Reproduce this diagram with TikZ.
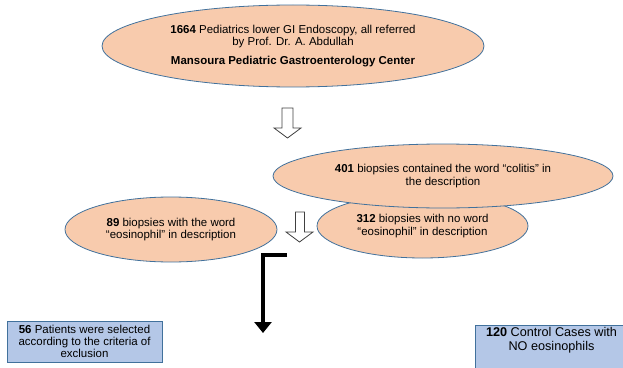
\documentclass[tikz,border=0pt]{standalone}
\usepackage{fontspec}
\setmainfont{Liberation Sans}
\usepackage{xcolor}
\usetikzlibrary{shapes.geometric,arrows.meta}

\definecolor{ovalfill}{RGB}{248,203,173}
\definecolor{ovalline}{RGB}{65,113,156}
\definecolor{boxfill}{RGB}{180,199,231}
\definecolor{arrowline}{RGB}{64,64,64}

\tikzset{
  oval/.style={ellipse, draw=ovalline, line width=0.6pt, fill=ovalfill, inner sep=0pt, align=center, font=\fontsize{8.6}{9.2}\selectfont},
  bluebox/.style={rectangle, draw=ovalline, line width=0.6pt, fill=boxfill, inner sep=0pt, align=center},
  hollow/.style={draw=arrowline, fill=white, line width=0.6pt}
}

\begin{document}
\begin{tikzpicture}[x=0.75pt,y=0.75pt,yscale=-1,xscale=1]
	\useasboundingbox (0,0) rectangle (623,367);
	
	%Shape: Ellipse [id:dp5172093341806614] 
	\node [oval, minimum width=286.5pt, minimum height=61.5pt] (total) at (293,46) {{\bfseries 1664} Pediatrics lower GI Endoscopy, all referred\\ by Prof. Dr. A. Abdullah\\[4.5pt] {\bfseries Mansoura Pediatric Gastroenterology Center}};
	%Shape: Down Arrow [id:dp2930781146522207] 
	\draw [hollow] (282,108) -- (293,108) -- (293,128) -- (301,128) -- (287.5,138) -- (274,128) -- (282,128) -- cycle ;
	%Shape: Ellipse [id:dp8806231758104926] 
	\node [oval, minimum width=158.25pt, minimum height=48pt] (noeos) at (422.5,226) {{\bfseries 312} biopsies with no word\\ “eosinophil” in description};
	%Shape: Ellipse [id:dp0346958817227151] 
	\node [oval, minimum width=255pt, minimum height=48pt] (colitis) at (443,176) {{\bfseries 401} biopsies contained the word “colitis” in\\ the description};
	%Shape: Ellipse [id:dp7419065531260948] 
	\node [oval, minimum width=159pt, minimum height=48.75pt] (eos) at (171,229.5) {{\bfseries 89} biopsies with the word\\ “eosinophil” in description};
	%Shape: Down Arrow [id:dp6653318043215889] 
	\draw [hollow] (295.5,212) -- (304.5,212) -- (304.5,232) -- (313,232) -- (299.5,242) -- (286,232) -- (295.5,232) -- cycle ;
	
	%Straight Lines [id:da3381954026417712] 
	\coordinate (lstart) at (287,254.5);
	\coordinate (lend) at (263,333);
	\draw [line width=3pt, -{Triangle[width=12.75pt,length=8.25pt]}] (lstart) -| (lend) ;
	
	%Shape: Rectangle [id:dp9127456032187745] 
	\node [bluebox, minimum width=116.25pt, minimum height=30.75pt, font=\fontsize{8.6}{9}\selectfont] (selected) at (84.5,341.5) {{\bfseries 56} Patients were selected\\ according to the criteria of\\ exclusion};
	%Shape: Rectangle [id:dp4470683215290356] 
	\begin{scope}
	\clip (0,0) rectangle (623,367);
	\node [bluebox, minimum width=114.75pt, minimum height=35.25pt, font=\fontsize{9.5}{10.5}\selectfont] (control) at (551.5,348.5) {{\bfseries 120} Control Cases with\\ NO eosinophils\\ \strut};
	\end{scope}
	
\end{tikzpicture}
\end{document}
